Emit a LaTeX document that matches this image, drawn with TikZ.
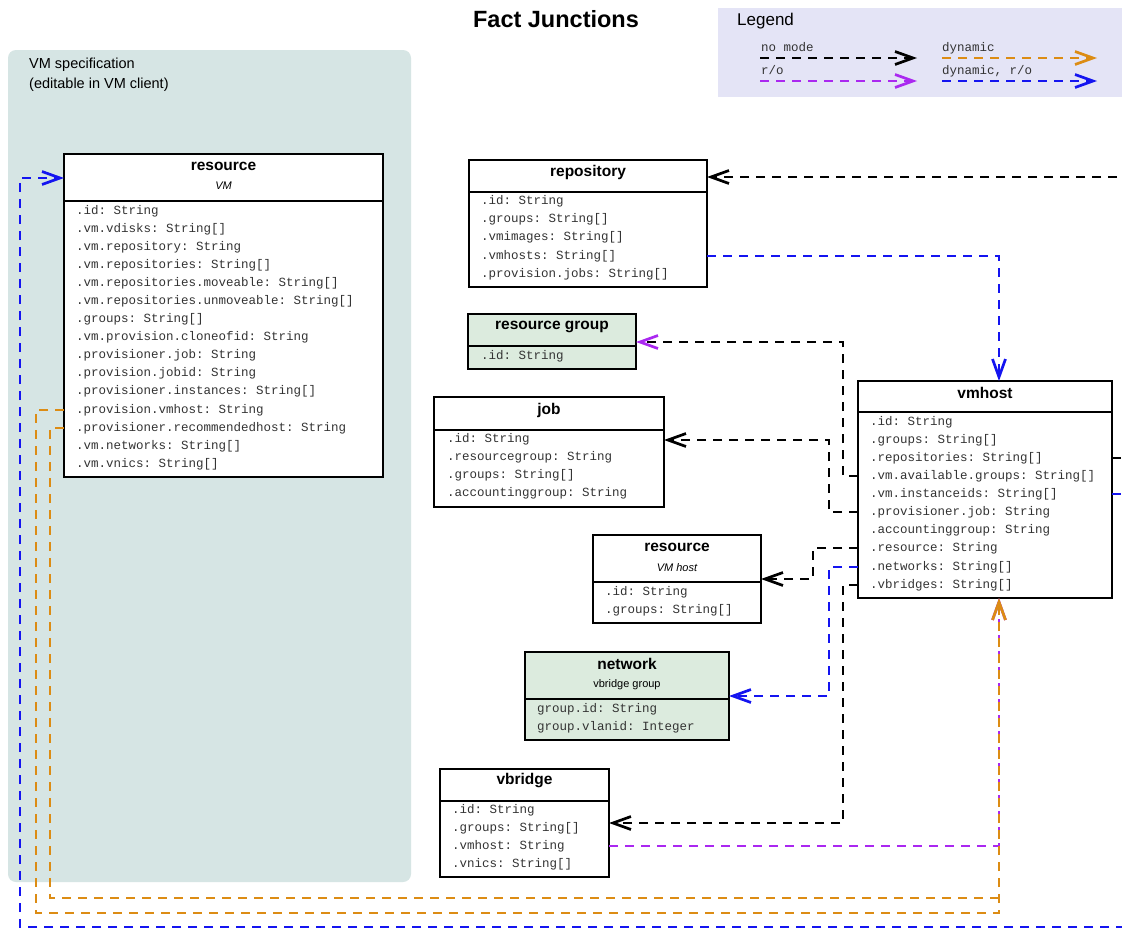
\documentclass[tikz,border=0pt]{standalone}
\usepackage{fontspec}
\setmainfont{Liberation Sans}
\setmonofont{Liberation Mono}
\usetikzlibrary{arrows.meta}
\definecolor{cblue}{RGB}{20,20,240}
\definecolor{cpurple}{RGB}{170,40,240}
\definecolor{corange}{RGB}{220,140,20}
\definecolor{cgreen}{RGB}{220,235,222}
\definecolor{cteal}{RGB}{214,229,228}
\definecolor{clav}{RGB}{228,228,246}
\tikzset{
  box/.style={draw, line width=2.4pt, anchor=north west, inner sep=0pt, outer sep=0pt, fill=white},
  sepline/.style={line width=2.4pt},
  ttl/.style={font=\fontsize{15.5}{16}\selectfont\bfseries, inner sep=0pt},
  sub/.style={font=\fontsize{11}{12}\selectfont\itshape, inner sep=0pt},
  subr/.style={font=\fontsize{11}{12}\selectfont, inner sep=0pt},
  row/.style={anchor=west, inner sep=0pt, text height=9pt, text depth=3pt, font=\ttfamily\fontsize{12.5}{13}\selectfont, text=black!80},
  lbl/.style={anchor=west, inner sep=0pt, font=\fontsize{14.5}{16}\selectfont},
  conn/.style={line width=2.7pt, dash pattern=on 9pt off 7pt},
  tipb/.style={-{Straight Barb[length=18pt,width=13pt]}},
  tipp/.style={-{Straight Barb[length=18pt,width=13pt,color=cpurple]}}
}
\begin{document}
\begin{tikzpicture}[x=1pt,y=-1pt]
\clip (0,0) rectangle (1122,930);
\fill[white] (0,0) rectangle (1122,930);

% title
\node[font=\fontsize{23.5}{26}\selectfont\bfseries, inner sep=0pt] (title) at (556,19) {Fact Junctions};

% legend
\fill[clav] (718,8) rectangle (1130,97);
\node[anchor=west, inner sep=0pt, font=\fontsize{17}{18}\selectfont] (legT) at (737,21) {Legend};
\node[row] (lg1) at (761,48) {no mode};
\node[row] (lg2) at (761,71) {r/o};
\node[row] (lg3) at (942,48) {dynamic};
\node[row] (lg4) at (942,71) {dynamic, r/o};
\coordinate (la1) at (760,58); \coordinate (lb1) at (917,58);
\coordinate (la2) at (760,81); \coordinate (lb2) at (917,81);
\coordinate (la3) at (942,58); \coordinate (lb3) at (1097,58);
\coordinate (la4) at (942,81); \coordinate (lb4) at (1097,81);
\draw[conn,tipb,black] (la1) -- (lb1);
\draw[conn,tipb,cpurple] (la2) -- (lb2);
\draw[conn,tipb,corange] (la3) -- (lb3);
\draw[conn,tipb,cblue] (la4) -- (lb4);

% VM specification background
\fill[cteal, rounded corners=8pt] (8,50) rectangle (411,882);
\node[lbl] (spec1) at (29,65) {VM specification};
\node[lbl] (spec2) at (29,85) {(editable in VM client)};

% resource VM
\node[box, minimum width=319pt, minimum height=323pt] (resvm) at (64,154) {};
\draw[sepline] (64,201) -- (383,201);
\node[ttl] (resvmT) at (223.5,166) {resource};
\node[sub] (resvmS) at (223.5,186) {VM};
\node[row] (rv1) at (76,211) {.id: String};
\node[row] (rv2) at (76,229) {.vm.vdisks: String[]};
\node[row] (rv3) at (76,247) {.vm.repository: String};
\node[row] (rv4) at (76,265) {.vm.repositories: String[]};
\node[row] (rv5) at (76,283) {.vm.repositories.moveable: String[]};
\node[row] (rv6) at (76,301) {.vm.repositories.unmoveable: String[]};
\node[row] (rv7) at (76,319) {.groups: String[]};
\node[row] (rv8) at (76,337) {.vm.provision.cloneofid: String};
\node[row] (rv9) at (76,355) {.provisioner.job: String};
\node[row] (rv10) at (76,373) {.provision.jobid: String};
\node[row] (rv11) at (76,391) {.provisioner.instances: String[]};
\node[row] (rv12) at (76,410) {.provision.vmhost: String};
\node[row] (rv13) at (76,428) {.provisioner.recommendedhost: String};
\node[row] (rv14) at (76,446) {.vm.networks: String[]};
\node[row] (rv15) at (76,464) {.vm.vnics: String[]};

% repository
\node[box, minimum width=238pt, minimum height=127pt] (repo) at (469,160) {};
\draw[sepline] (469,192) -- (707,192);
\node[ttl] (repoT) at (588,172) {repository};
\node[row] (rp1) at (481,201) {.id: String};
\node[row] (rp2) at (481,219) {.groups: String[]};
\node[row] (rp3) at (481,237) {.vmimages: String[]};
\node[row] (rp4) at (481,256) {.vmhosts: String[]};
\node[row] (rp5) at (481,274) {.provision.jobs: String[]};

% resource group
\node[box, fill=cgreen, minimum width=168pt, minimum height=55pt] (rgroup) at (468,314) {};
\draw[sepline] (468,346) -- (636,346);
\node[ttl] (rgroupT) at (552,327) {resource group};
\node[row] (rg1) at (481,356) {.id: String};

% job
\node[box, minimum width=230pt, minimum height=110pt] (job) at (434,397) {};
\draw[sepline] (434,430) -- (664,430);
\node[ttl] (jobT) at (549,410) {job};
\node[row] (jb1) at (447,439) {.id: String};
\node[row] (jb2) at (447,457) {.resourcegroup: String};
\node[row] (jb3) at (447,475) {.groups: String[]};
\node[row] (jb4) at (447,493) {.accountinggroup: String};

% resource VM host
\node[box, minimum width=168pt, minimum height=88pt] (reshost) at (593,535) {};
\draw[sepline] (593,582) -- (761,582);
\node[ttl] (reshostT) at (677,547) {resource};
\node[sub] (reshostS) at (677,568) {VM host};
\node[row] (rh1) at (605,592) {.id: String};
\node[row] (rh2) at (605,610) {.groups: String[]};

% vmhost
\node[box, minimum width=254pt, minimum height=217pt] (vmhost) at (858,381) {};
\draw[sepline] (858,412) -- (1112,412);
\node[ttl] (vmhostT) at (985,393) {vmhost};
\node[row] (vh1) at (870,422) {.id: String};
\node[row] (vh2) at (870,440) {.groups: String[]};
\node[row] (vh3) at (870,458) {.repositories: String[]};
\node[row] (vh4) at (870,476) {.vm.available.groups: String[]};
\node[row] (vh5) at (870,494) {.vm.instanceids: String[]};
\node[row] (vh6) at (870,512) {.provisioner.job: String};
\node[row] (vh7) at (870,530) {.accountinggroup: String};
\node[row] (vh8) at (870,548) {.resource: String};
\node[row] (vh9) at (870,567) {.networks: String[]};
\node[row] (vh10) at (870,585) {.vbridges: String[]};

% network
\node[box, fill=cgreen, minimum width=204pt, minimum height=88pt] (network) at (525,652) {};
\draw[sepline] (525,699) -- (729,699);
\node[ttl] (networkT) at (627,664) {network};
\node[subr] (networkS) at (627,685) {vbridge group};
\node[row] (nw1) at (537,709) {group.id: String};
\node[row] (nw2) at (537,727) {group.vlanid: Integer};

% vbridge
\node[box, minimum width=169pt, minimum height=108pt] (vbridge) at (440,769) {};
\draw[sepline] (440,801) -- (609,801);
\node[ttl] (vbridgeT) at (524.5,781) {vbridge};
\node[row] (vb1) at (452,810) {.id: String};
\node[row] (vb2) at (452,828) {.groups: String[]};
\node[row] (vb3) at (452,846) {.vmhost: String};
\node[row] (vb4) at (452,864) {.vnics: String[]};

% connectors
\draw[conn,cblue,tipb] (vmhost.east |- vh5) -- ++(30,0) |- (20,927) -- (20,178) -- (resvm.west |- 0,178);
\draw[conn,black,tipb] (vmhost.east |- vh3) -- ++(30,0) |- (repo.east |- 0,177);
\draw[conn,cblue,tipb] (repo.east |- rp4) -| (vmhost.north -| 999,0);
\draw[conn,black,tipp] (vmhost.west |- vh4) -- ++(-15,0) |- (rgroup.east |- 0,342);
\draw[conn,black,tipb] (vmhost.west |- vh6) -- ++(-29,0) |- (job.east |- 0,440);
\draw[conn,black,tipb] (vmhost.west |- vh8) -- ++(-45,0) |- (reshost.east |- 0,579);
\draw[conn,cblue,tipb] (vmhost.west |- vh9) -- ++(-29,0) |- (network.east |- 0,696);
\draw[conn,black,tipb] (vmhost.west |- vh10) -- ++(-15,0) |- (vbridge.east |- 0,823);
\draw[conn,cpurple,tipb] (vbridge.east |- vb3) -| (vmhost.south -| 999,0);
\draw[conn,corange] (resvm.west |- rv13) -| (50,898) -- (999,898);
\draw[conn,corange,tipb] (resvm.west |- rv12) -| (36,913) -| (vmhost.south -| 999,0);
\end{tikzpicture}
\end{document}
